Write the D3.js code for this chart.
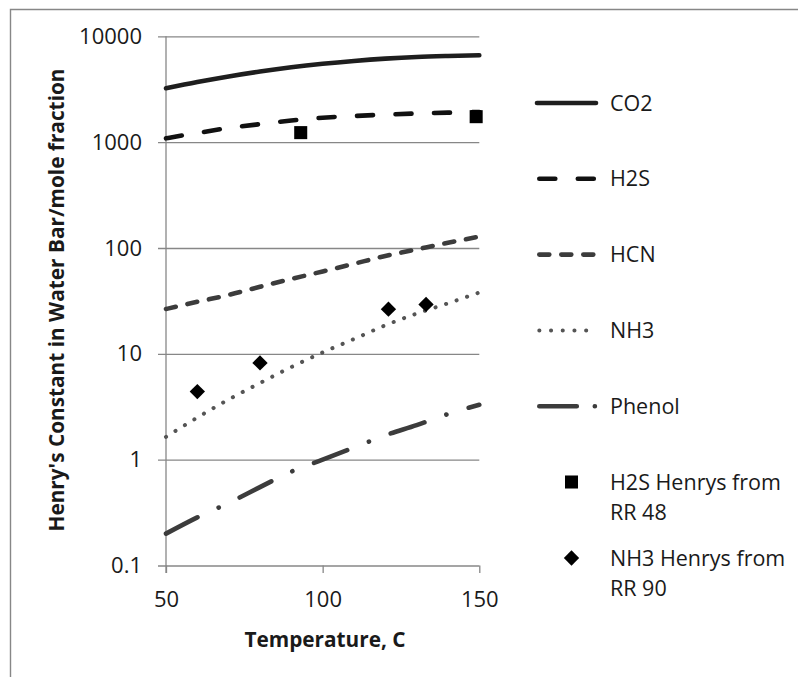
<!DOCTYPE html>
<html>
<head>
<meta charset="utf-8">
<script src="https://cdn.jsdelivr.net/npm/d3@7"></script>
<style>
  body { margin: 0; background: #fff; }
  svg text { font-family: "Open Sans", sans-serif; fill: #1a1a1a; }
</style>
</head>
<body>
<svg id="chart"></svg>
<script>
// temperatures (C) and Henry's constants
const temps = [50, 60, 70, 80, 90, 100, 110, 120, 130, 140, 150];
const co2 = [3230, 3700, 4180, 4650, 5100, 5500, 5850, 6150, 6380, 6520, 6620];
const h2s = [1087, 1220, 1360, 1480, 1600, 1700, 1765, 1820, 1865, 1900, 1925];
const hcn = [26.5, 31, 36, 43, 51, 60, 71, 84, 97, 112, 128];
const nh3 = [1.64, 2.5, 3.7, 5.3, 7.5, 10.3, 13.8, 18.6, 24, 30, 38];
const phenol = [0.2, 0.285, 0.39, 0.55, 0.77, 1.0, 1.3, 1.7, 2.12, 2.7, 3.3];

const h2sRRTemps = [93, 149];
const h2sRRValues = [1230, 1740];
const nh3RRTemps = [60, 80, 121, 133];
const nh3RRValues = [4.4, 8.2, 26.4, 29.3];

const seriesNames = ["CO2", "H2S", "HCN", "NH3", "Phenol"];
const xTicks = [50, 100, 150];
const yTicks = [0.1, 1, 10, 100, 1000, 10000];

const size = { width: 798, height: 677 };
const plot = { left: 166, right: 479.3, top: 36.3, bottom: 565.5 };
const GRID = "#878787";

const styles = {
  CO2: { color: "#1e1e1e", width: 4.6, dash: null, legDash: null },
  H2S: { color: "#111", width: 4.6, dash: "16,22.5", legDash: "16,22.5" },
  HCN: { color: "#3c3c3c", width: 4.6, dash: "10,12", legDash: "10,12" },
  NH3: { color: "#555", width: 4, dash: "0.1,11", legDash: "0.1,11.6" },
  Phenol: { color: "#3c3c3c", width: 4.6, dash: "35.5,23.25,0.1,23.25", legDash: "37.5,18,0.1,18" }
};
const seriesValues = { CO2: co2, H2S: h2s, HCN: hcn, NH3: nh3, Phenol: phenol };

const svg = d3.select("#chart").attr("width", size.width).attr("height", size.height);

// outer chart frame (clipped on right and bottom)
svg.append("path")
  .attr("d", `M10.5,${size.height} V9.5 H${size.width}`)
  .attr("fill", "none")
  .attr("stroke", GRID)
  .attr("stroke-width", 1.4);

const x = d3.scaleLinear().domain([50, 150]).range([plot.left, plot.right]);
const y = d3.scaleLog().domain([0.1, 10000]).range([plot.bottom, plot.top]);

// gridlines + y tick labels
const yAxis = svg.append("g")
  .attr("transform", `translate(158,0)`)
  .call(d3.axisLeft(y).tickValues(yTicks).tickFormat((d) => String(d))
    .tickSize(-(plot.right - 158)).tickPadding(16));
yAxis.select(".domain").remove();
yAxis.selectAll("line").attr("stroke", GRID).attr("stroke-width", 1.3);
yAxis.selectAll("text").style("font-size", "22px").attr("fill", "#1a1a1a");

// x ticks + labels
const xAxis = svg.append("g")
  .attr("transform", `translate(0,${plot.bottom})`)
  .call(d3.axisBottom(x).tickValues(xTicks).tickFormat((d) => String(d)).tickSize(7.5));
xAxis.select(".domain").remove();
xAxis.selectAll("line").attr("stroke", GRID).attr("stroke-width", 1.3);
xAxis.selectAll("text")
  .style("font-size", "22px")
  .attr("fill", "#1a1a1a")
  .attr("y", 41.5)
  .attr("dy", null);

// vertical axis line
svg.append("line")
  .attr("x1", plot.left).attr("x2", plot.left)
  .attr("y1", plot.top).attr("y2", plot.bottom + 7.5)
  .attr("stroke", GRID).attr("stroke-width", 1.3);

// series lines
const line = d3.line()
  .x((d, i) => x(temps[i]))
  .y((d) => y(d))
  .curve(d3.curveMonotoneX);

seriesNames.forEach((name) => {
  const s = styles[name];
  svg.append("path")
    .datum(seriesValues[name])
    .attr("d", line)
    .attr("fill", "none")
    .attr("stroke", s.color)
    .attr("stroke-width", s.width)
    .attr("stroke-linecap", "round")
    .attr("stroke-dasharray", s.dash);
});

// measured points
const square = d3.symbol().type(d3.symbolSquare).size(170);
const diamond = d3.symbol().type(d3.symbolDiamond2).size(150);

svg.append("g")
  .selectAll("path")
  .data(h2sRRValues)
  .join("path")
  .attr("d", square)
  .attr("transform", (d, i) => `translate(${x(h2sRRTemps[i])},${y(d)})`)
  .attr("fill", "#000");

svg.append("g")
  .selectAll("path")
  .data(nh3RRValues)
  .join("path")
  .attr("d", diamond)
  .attr("transform", (d, i) => `translate(${x(nh3RRTemps[i])},${y(d)})`)
  .attr("fill", "#000");

// legend
const legX1 = 537, legX2 = 596, legText = 610;
const leg = svg.append("g");
seriesNames.forEach((name, i) => {
  const s = styles[name];
  const ly = 103 + i * 75.8;
  leg.append("line")
    .attr("x1", legX1 + (s.legDash ? 2.3 : 0)).attr("x2", legX2)
    .attr("y1", ly).attr("y2", ly)
    .attr("stroke", s.color)
    .attr("stroke-width", s.width)
    .attr("stroke-linecap", "round")
    .attr("stroke-dasharray", s.legDash);
  leg.append("text")
    .attr("x", legText).attr("y", ly)
    .attr("dy", "0.35em")
    .style("font-size", "21.5px")
    .text(name);
});

const markerRows = [
  { sym: square, lines: ["H2S Henrys from", "RR 48"], y: 482 },
  { sym: diamond, lines: ["NH3 Henrys from", "RR 90"], y: 558 }
];
markerRows.forEach((r) => {
  leg.append("path")
    .attr("d", r.sym)
    .attr("transform", `translate(571.5,${r.y})`)
    .attr("fill", "#000");
  r.lines.forEach((t, j) => {
    leg.append("text")
      .attr("x", legText).attr("y", r.y + j * 30)
      .attr("dy", "0.35em")
      .style("font-size", "21.5px")
      .text(t);
  });
});

// axis titles
svg.append("text")
  .attr("transform", "translate(57,300) rotate(-90)")
  .attr("text-anchor", "middle")
  .attr("dy", "0.35em")
  .style("font-size", "20.8px")
  .style("font-weight", "bold")
  .text("Henry's Constant in Water Bar/mole fraction");

svg.append("text")
  .attr("x", 325).attr("y", 640)
  .attr("text-anchor", "middle")
  .attr("dy", "0.35em")
  .style("font-size", "20.8px")
  .style("font-weight", "bold")
  .text("Temperature, C");
</script>
</body>
</html>
